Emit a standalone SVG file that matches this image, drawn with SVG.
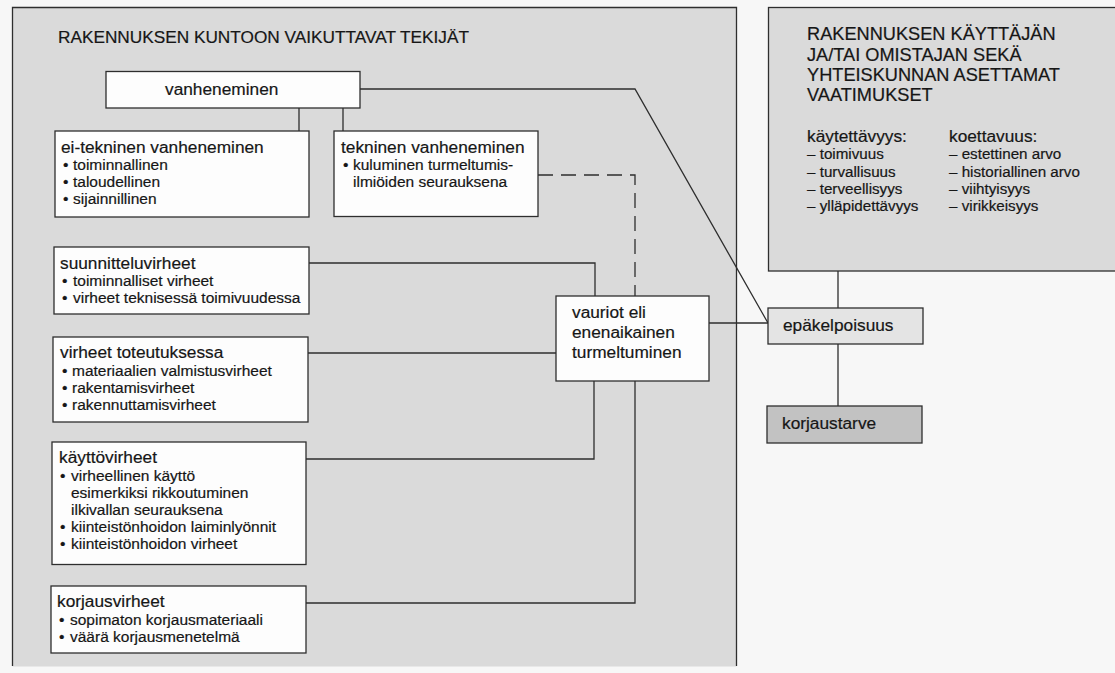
<svg xmlns="http://www.w3.org/2000/svg" width="1115" height="673" viewBox="0 0 1115 673">
<style>
text{font-family:"Liberation Sans",Arial,sans-serif;fill:#161616;stroke:#161616;stroke-width:0.2}
.h{font-size:17.3px}
.hr{font-size:18.2px}
.l{font-size:15.5px}
.r{font-size:15.2px}
.box{fill:#fdfdfd;stroke:#2e2e2e;stroke-width:1.3}
.ln{fill:none;stroke:#2e2e2e;stroke-width:1.3}
.dash{stroke-dasharray:15 8}
</style>
<rect x="0" y="0" width="1115" height="673" fill="#f7f7f7"/>
<g id="panel-left">
<rect x="12.5" y="7.5" width="724" height="659" fill="#dadada"/>
<path class="ln" d="M12.5,666 V7.5 H736.5 V666"/>
<text class="h" x="58" y="43" textLength="411" lengthAdjust="spacingAndGlyphs">RAKENNUKSEN KUNTOON VAIKUTTAVAT TEKIJÄT</text>
</g>
<g id="panel-right">
<rect x="768.5" y="7.5" width="360" height="263.5" fill="#dadada" stroke="#2e2e2e" stroke-width="1.3"/>
<text class="hr" x="807" y="40">RAKENNUKSEN KÄYTTÄJÄN</text>
<text class="hr" x="807" y="61">JA/TAI OMISTAJAN SEKÄ</text>
<text class="hr" x="807" y="81">YHTEISKUNNAN ASETTAMAT</text>
<text class="hr" x="807" y="101">VAATIMUKSET</text>
<text class="h" x="807" y="142">käytettävyys:</text>
<text class="r" x="807" y="159">– toimivuus</text>
<text class="r" x="807" y="177">– turvallisuus</text>
<text class="r" x="807" y="194">– terveellisyys</text>
<text class="r" x="807" y="211">– ylläpidettävyys</text>
<text class="h" x="949" y="142">koettavuus:</text>
<text class="r" x="949" y="159">– estettinen arvo</text>
<text class="r" x="949" y="177">– historiallinen arvo</text>
<text class="r" x="949" y="194">– viihtyisyys</text>
<text class="r" x="949" y="211">– virikkeisyys</text>
</g>
<g id="connectors">
<path class="ln" d="M360,89 H635 L768,323"/>
<path class="ln" d="M299,108 V131 M343,108 V131"/>
<path class="ln dash" d="M538,175 H635 V296"/>
<path class="ln" d="M309,263 H595 V296"/>
<path class="ln" d="M308,353 H556"/>
<path class="ln" d="M306,459 H594 V381"/>
<path class="ln" d="M306,603 H635 V381"/>
<path class="ln" d="M709,323 H768"/>
<path class="ln" d="M838,271 V308 M838,344 V406"/>
</g>
<g id="vanheneminen">
<rect class="box" x="106" y="71.5" width="254" height="36.5"/>
<text class="h" x="165" y="95">vanheneminen</text>
</g>
<g id="ei-tekninen">
<rect class="box" x="55" y="131" width="254" height="86"/>
<text class="h" x="61" y="153">ei-tekninen vanheneminen</text>
<text class="l" x="63" y="170">•</text><text class="l" x="73" y="170">toiminnallinen</text>
<text class="l" x="63" y="187">•</text><text class="l" x="73" y="187">taloudellinen</text>
<text class="l" x="63" y="204">•</text><text class="l" x="73" y="204">sijainnillinen</text>
</g>
<g id="tekninen">
<rect class="box" x="334" y="131" width="204" height="85.5"/>
<text class="h" x="341" y="153">tekninen vanheneminen</text>
<text class="l" x="343" y="170">•</text><text class="l" x="353" y="170">kuluminen turmeltumis-</text>
<text class="l" x="353" y="187">ilmiöiden seurauksena</text>
</g>
<g id="suunnitteluvirheet">
<rect class="box" x="54" y="247" width="255" height="67"/>
<text class="h" x="60" y="269">suunnitteluvirheet</text>
<text class="l" x="62" y="286">•</text><text class="l" x="73" y="286">toiminnalliset virheet</text>
<text class="l" x="62" y="303">•</text><text class="l" x="73" y="303">virheet teknisessä toimivuudessa</text>
</g>
<g id="toteutus">
<rect class="box" x="53" y="337" width="255" height="85"/>
<text class="h" x="60" y="358">virheet toteutuksessa</text>
<text class="l" x="62" y="376">•</text><text class="l" x="72" y="376">materiaalien valmistusvirheet</text>
<text class="l" x="62" y="393">•</text><text class="l" x="72" y="393">rakentamisvirheet</text>
<text class="l" x="62" y="410">•</text><text class="l" x="72" y="410">rakennuttamisvirheet</text>
</g>
<g id="kayttovirheet">
<rect class="box" x="52" y="442" width="254" height="122.5"/>
<text class="h" x="59" y="463">käyttövirheet</text>
<text class="l" x="60" y="481">•</text><text class="l" x="71" y="481">virheellinen käyttö</text>
<text class="l" x="71" y="498">esimerkiksi rikkoutuminen</text>
<text class="l" x="71" y="515">ilkivallan seurauksena</text>
<text class="l" x="60" y="532">•</text><text class="l" x="71" y="532">kiinteistönhoidon laiminlyönnit</text>
<text class="l" x="60" y="549">•</text><text class="l" x="71" y="549">kiinteistönhoidon virheet</text>
</g>
<g id="korjausvirheet">
<rect class="box" x="51" y="586" width="255" height="67"/>
<text class="h" x="57" y="607">korjausvirheet</text>
<text class="l" x="59" y="625">•</text><text class="l" x="70" y="625">sopimaton korjausmateriaali</text>
<text class="l" x="59" y="642">•</text><text class="l" x="70" y="642">väärä korjausmenetelmä</text>
</g>
<g id="vauriot">
<rect class="box" x="556" y="296" width="153" height="85"/>
<text class="h" x="572" y="318">vauriot eli</text>
<text class="h" x="572" y="338">enenaikainen</text>
<text class="h" x="572" y="358">turmeltuminen</text>
</g>
<g id="epakelpoisuus">
<rect x="768" y="308" width="155" height="36" fill="#e4e4e4" stroke="#2e2e2e" stroke-width="1.3"/>
<text class="h" x="783" y="331">epäkelpoisuus</text>
</g>
<g id="korjaustarve">
<rect x="767" y="406" width="155" height="37" fill="#c2c2c2" stroke="#2e2e2e" stroke-width="1.3"/>
<text class="h" x="782" y="429">korjaustarve</text>
</g>
</svg>
